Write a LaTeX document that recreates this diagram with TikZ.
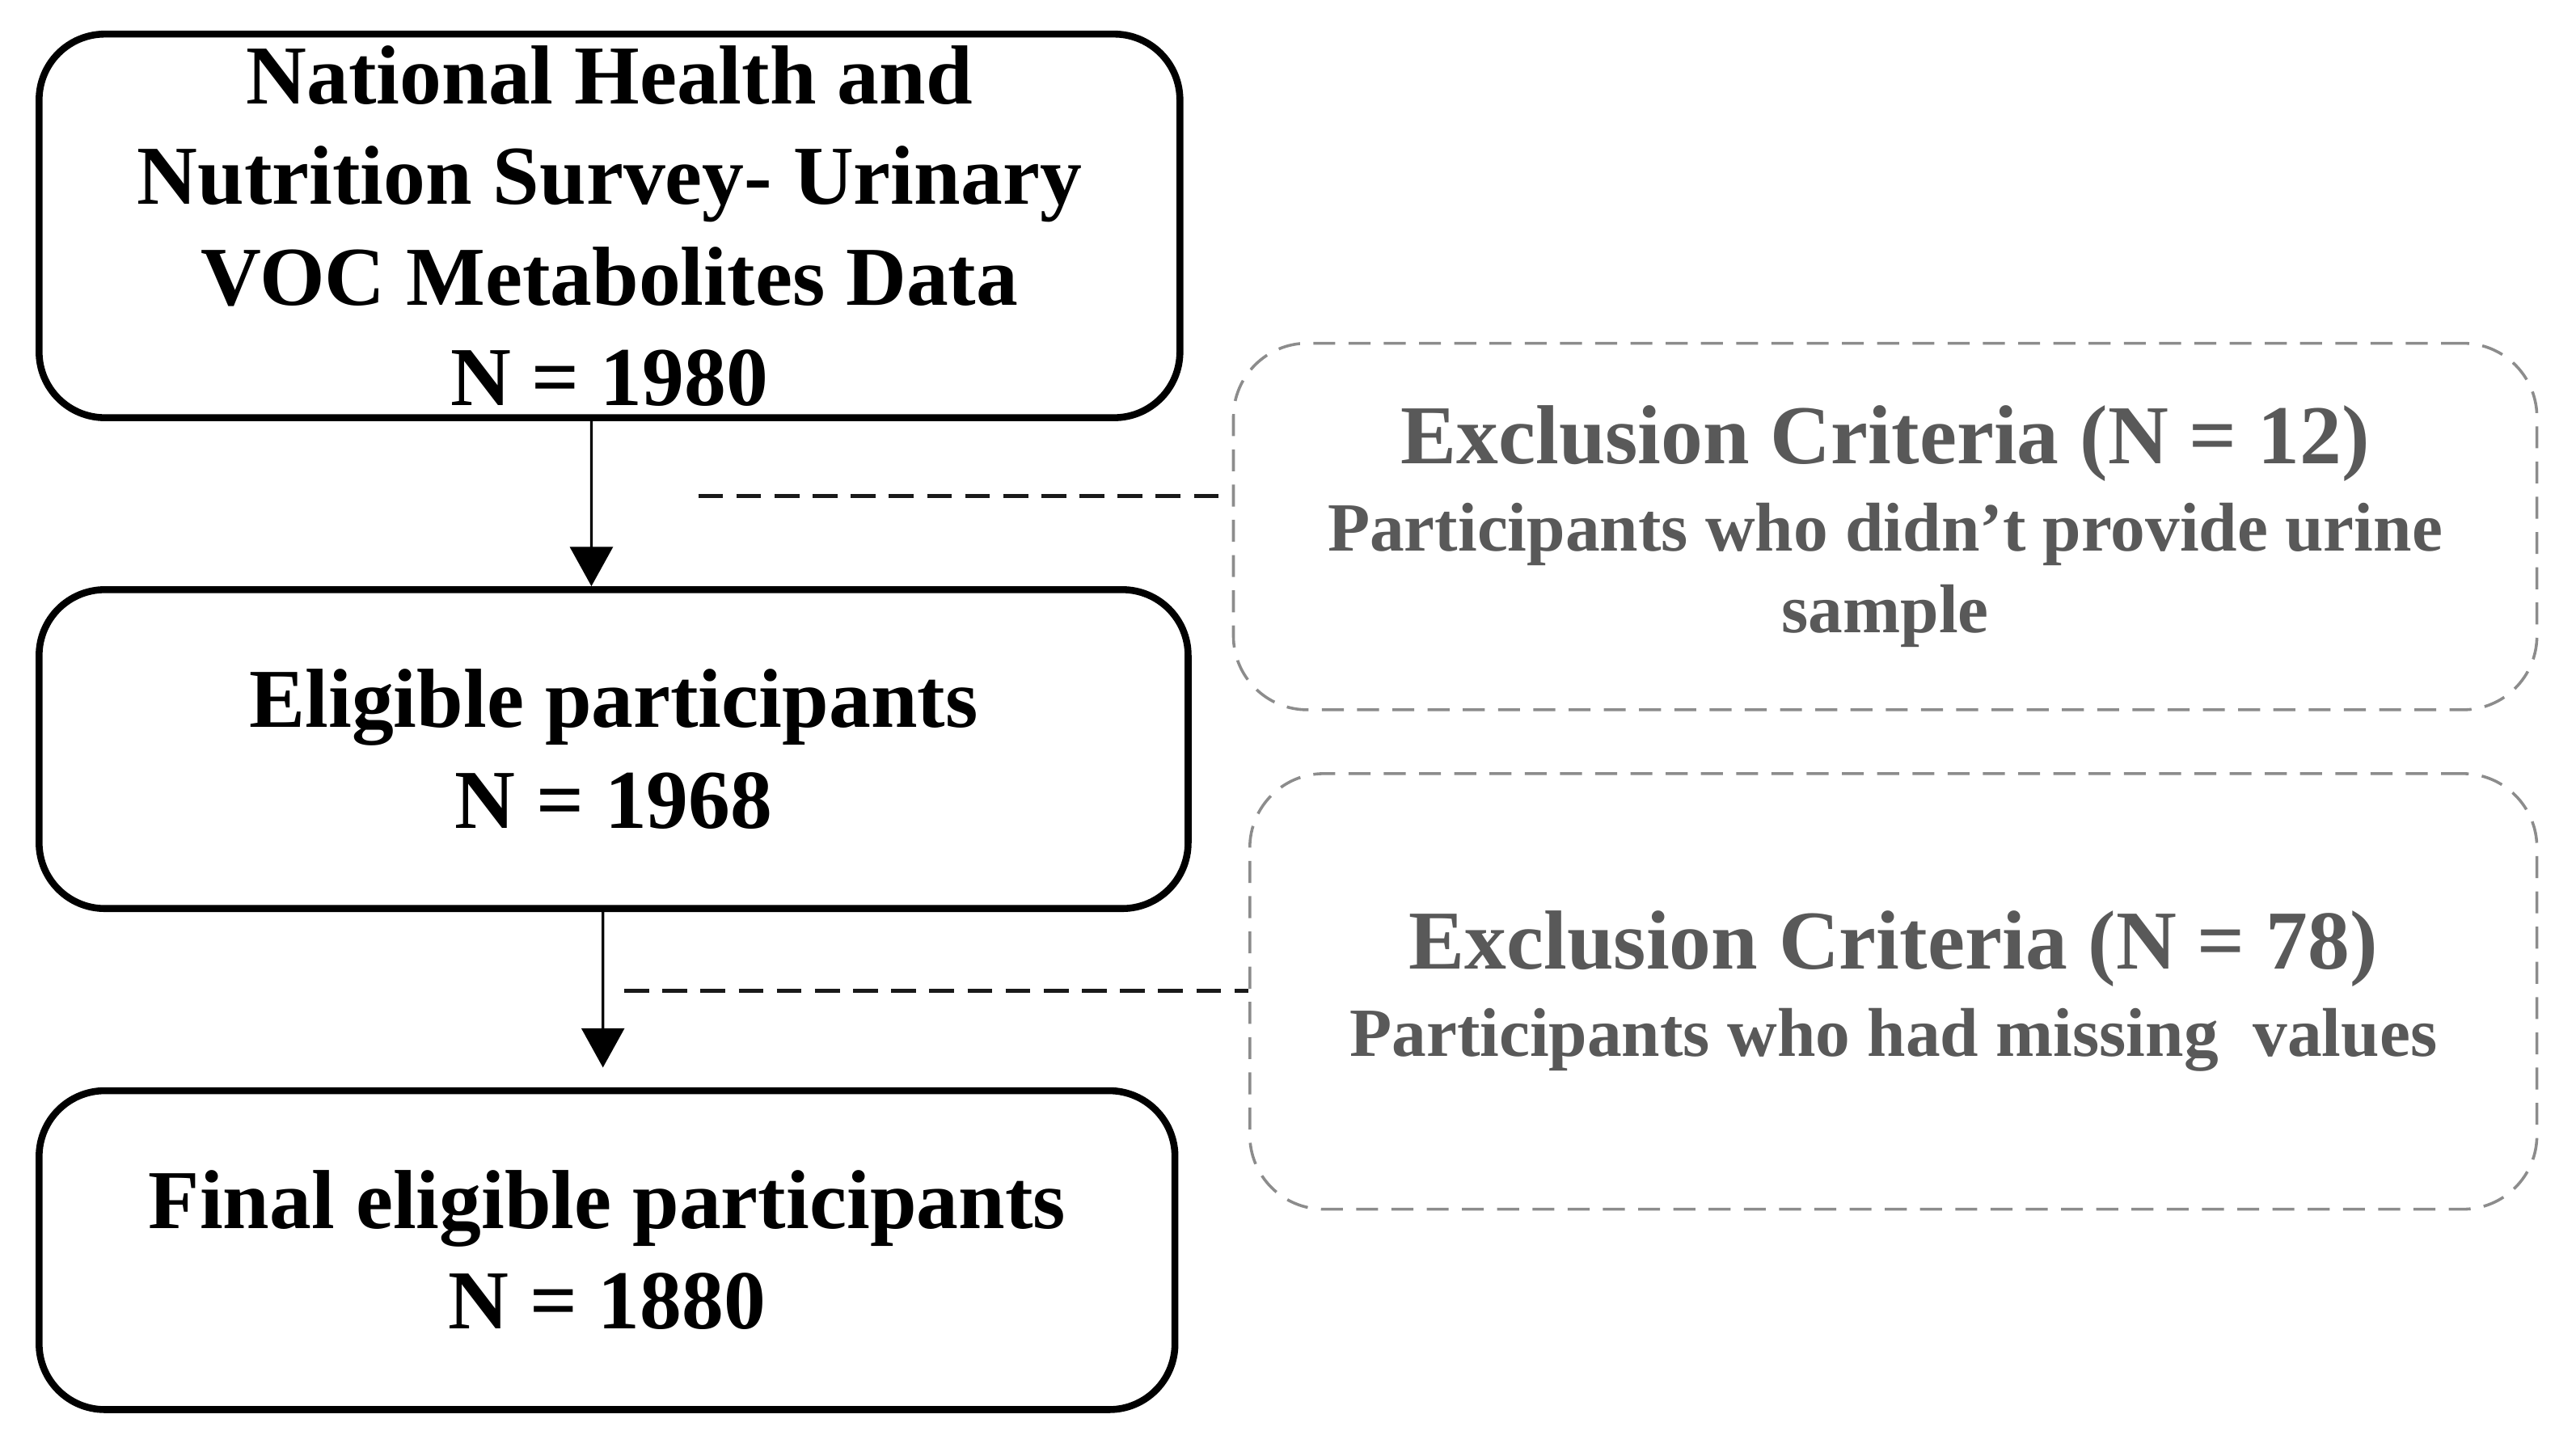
\documentclass[tikz,border=0pt]{standalone}
\usepackage{fontspec}
\setmainfont{Liberation Serif}
\usepackage{tikz}
\usetikzlibrary{arrows.meta}
\definecolor{exclline}{HTML}{8C8C8C}
\definecolor{excltext}{HTML}{595959}
\tikzset{
    stage/.style={
           rectangle,
           draw=black, line width=1.2pt,
           rounded corners=0.4cm,
           inner sep=2pt,
           align=center,
           font=\bfseries\fontsize{14.5pt}{17.4pt}\selectfont,
           },
}
\tikzset{
    excl/.style={
           rectangle,
           draw=exclline, line width=0.5pt,
           dash pattern=on 3.8pt off 2.3pt,
           rounded corners=0.45cm,
           inner sep=2pt,
           align=center, text=excltext,
           font=\bfseries\fontsize{11.95pt}{14.2pt}\selectfont,
           },
}
\tikzset{
    flow/.style={-{Triangle[length=6.8pt,width=7.4pt]}, line width=0.45pt},
    link/.style={draw=black!90, line width=0.7pt, dash pattern=on 4.3pt off 2.3pt},
}

\begin{document}
\begin{tikzpicture}[x=0.01cm, y=-0.01cm]
\useasboundingbox (0,0) rectangle (1568,881);
% main stages
\node[stage, minimum width=6.94cm, minimum height=2.27cm] (nhanes) at (371,137.5)
    {National Health and\\Nutrition Survey- Urinary\\VOC Metabolites Data\\N = 1980};
\node[stage, minimum width=6.99cm, minimum height=1.94cm] (eligible) at (373.5,456)
    {Eligible participants\\N = 1968};
\node[stage, minimum width=6.91cm, minimum height=1.94cm] (final) at (369.5,761)
    {Final eligible participants\\N = 1880};
% exclusions
\node[excl, minimum width=7.93cm, minimum height=2.23cm] (excla) at (1147.5,320.5)
    {{\fontsize{14.5pt}{15pt}\selectfont Exclusion Criteria (N = 12)}\\[0.9pt]
     Participants who didn’t provide urine\\sample};
\node[excl, minimum width=7.83cm, minimum height=2.65cm] (exclb) at (1152.5,603.5)
    {{\fontsize{14.5pt}{15pt}\selectfont Exclusion Criteria (N = 78)}\\[0.9pt]
     Participants who had missing~ values};
% arrows
\draw[flow] ([xshift=-0.11cm]nhanes.south) -- ([xshift=-0.135cm]eligible.north);
\draw[flow, shorten >=0.12cm] ([xshift=-0.065cm]eligible.south) -- ([xshift=-0.025cm]final.north);
% dashed links
\coordinate (cuta) at (425,302);
\coordinate (cutb) at (380,603);
\draw[link] (cuta) -- (cuta -| excla.west);
\draw[link] (cutb) -- (cutb -| exclb.west);
\end{tikzpicture}
\end{document}
